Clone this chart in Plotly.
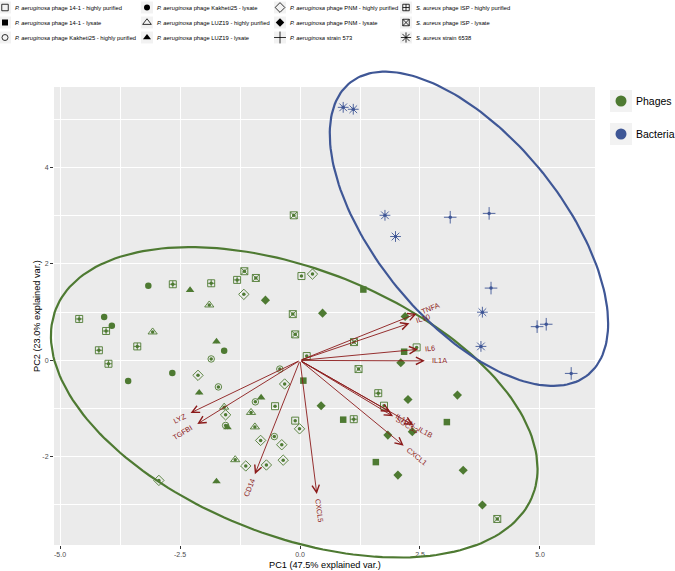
import numpy as np
import plotly.graph_objects as go

# ---------------- dados (PC1, PC2) ----------------
# fagos
p141_hp_x = [0.03, 2.43, -0.52, -0.10, 1.75, 0.14]
p141_hp_y = [1.75, 0.27, -0.95, -1.25, -0.94, 0.09]
p141_ly_x = [0.07, 1.32, 2.17, 0.90, 3.06, 1.58]
p141_ly_y = [-0.42, 1.47, 0.18, -1.23, -1.28, -2.11]
kak_hp_x = [-1.85, -1.70, -0.42, -0.93, -1.55, -0.535]
kak_hp_y = [0.03, -0.55, -0.18, -0.86, -1.35, -1.58]
kak_ly_x = [-4.08, -3.92, -3.16, -3.58, -2.66, -1.58]
kak_ly_y = [0.90, 0.72, 1.55, -0.43, -0.26, 0.20]
luz_hp_x = [-3.07, -1.89, -1.58, -1.02, -0.94, -1.35]
luz_hp_y = [0.59, 1.15, -0.97, -1.08, -1.38, -2.06]
luz_ly_x = [-2.29, -1.74, -2.10, -0.81, -1.51, -1.74]
luz_ly_y = [1.46, 0.39, -0.67, -0.77, -1.39, -2.51]
pnm_hp_x = [-2.125, -1.17, 0.26, -0.32, -1.55, -0.01, -0.82, -0.38, -1.13, -0.70, -0.35, -2.94]
pnm_hp_y = [-0.31, 1.37, 1.79, -0.49, -1.13, -1.42, -1.66, -1.75, -2.19, -2.17, -2.07, -2.49]
pnm_ly_x = [-0.72, 0.47, 0.44, 2.19, 2.10, 2.25, 3.28, 2.34, 1.83, 2.04, 3.40, 3.80]
pnm_ly_y = [1.25, 0.98, -0.94, 0.91, -0.05, -0.81, -0.72, -1.48, -1.55, -2.38, -2.28, -3.00]
isp_hp_x = [-4.60, -4.04, -4.19, -3.99, -3.39, -2.65, -1.85, -1.31, 1.63, 1.12]
isp_hp_y = [0.86, 0.61, 0.21, -0.07, 0.29, 1.58, 1.60, 1.67, -0.68, -1.22]
isp_ly_x = [-0.13, -1.16, -0.92, -0.15, -0.10, 4.11, 1.22, 1.125]
isp_ly_y = [3.01, 1.85, 1.71, 0.96, 0.54, -3.29, -0.18, 0.38]
# bacterias
pa573_x = [3.13, 3.94, 3.98, 4.94, 5.13, 5.65]
pa573_y = [2.97, 3.05, 1.50, 0.70, 0.75, -0.27]
sa6538_x = [0.90, 1.11, 1.77, 1.99, 3.80, 3.77]
sa6538_y = [5.25, 5.21, 3.01, 2.57, 1.00, 0.29]

# vetores (loadings)
var_names = ["TNFA", "IL10", "IL6", "IL1A", "IL1RN", "SOCS3", "IL1B", "CXCL1", "CXCL5", "CD14", "LYZ", "TGFBI"]
var_pc1 = [2.43, 2.28, 2.46, 2.60, 1.88, 1.94, 2.36, 2.16, 0.35, -0.94, -2.28, -2.14]
var_pc2 = [0.97, 0.77, 0.23, -0.01, -1.07, -1.16, -1.34, -1.77, -2.77, -2.36, -1.09, -1.32]

# elipses: centro e matriz de forma
phage_center = [-0.12, -0.87]
phage_shape = [[25.7, -6.99], [-6.99, 10.37]]
bact_center = [3.52, 2.73]
bact_shape = [[8.41, -5.7], [-5.7, 10.63]]

x_tickvals = [-5.0, -2.5, 0.0, 2.5, 5.0]
x_ticktext = ["-5.0", "-2.5", "0.0", "2.5", "5.0"]
y_tickvals = [-2, 0, 2, 4]
y_ticktext = ["-2", "0", "2", "4"]

# ---------------- estilo / layout ----------------
GREEN = "#4E7A32"
BLUE = "#3F5796"
DARKRED = "#8B1A1A"
FONT = "Liberation Sans, Arial, sans-serif"

W, H = 675, 571
PAN_L, PAN_T, PAN_R, PAN_B = 54, 87, 595, 545
X_RANGE = [-5.125, 6.146]
Y_RANGE = [-3.83, 5.672]
sx = (PAN_R - PAN_L) / (X_RANGE[1] - X_RANGE[0])
sy = (PAN_B - PAN_T) / (Y_RANGE[1] - Y_RANGE[0])
# eixo auxiliar com a mesma escala, cobrindo a figura toda (elipses sem recorte)
X2_RANGE = [X_RANGE[0] - PAN_L / sx, X_RANGE[1] + (W - PAN_R) / sx]
Y2_RANGE = [Y_RANGE[0] - (H - PAN_B) / sy, Y_RANGE[1] + PAN_T / sy]

amostras = [
    ("<i>P. aeruginosa</i> phage 14-1 - highly purified", p141_hp_x, p141_hp_y, GREEN, "square-open", 7),
    ("<i>P. aeruginosa</i> phage 14-1 - lysate", p141_ly_x, p141_ly_y, GREEN, "square", 6.5),
    ("<i>P. aeruginosa</i> phage Kakheti25 - highly purified", kak_hp_x, kak_hp_y, GREEN, "circle-open", 6.5),
    ("<i>P. aeruginosa</i> phage Kakheti25 - lysate", kak_ly_x, kak_ly_y, GREEN, "circle", 6.5),
    ("<i>P. aeruginosa</i> phage LUZ19 - highly purified", luz_hp_x, luz_hp_y, GREEN, "triangle-up-open", 8),
    ("<i>P. aeruginosa</i> phage LUZ19 - lysate", luz_ly_x, luz_ly_y, GREEN, "triangle-up", 7.5),
    ("<i>P. aeruginosa</i> phage PNM - highly purified", pnm_hp_x, pnm_hp_y, GREEN, "diamond-open", 8),
    ("<i>P. aeruginosa</i> phage PNM - lysate", pnm_ly_x, pnm_ly_y, GREEN, "diamond", 7),
    ("<i>P. aeruginosa</i> strain 573", pa573_x, pa573_y, BLUE, "cross-thin-open", 9),
    ("<i>S. aureus</i> phage ISP - highly purified", isp_hp_x, isp_hp_y, GREEN, "square-cross-open", 7),
    ("<i>S. aureus</i> phage ISP - lysate", isp_ly_x, isp_ly_y, GREEN, "square-x-open", 7),
    ("<i>S. aureus</i> strain 6538", sa6538_x, sa6538_y, BLUE, "asterisk-open", 9),
]

fig = go.Figure()

# pontinho de base (como no ggbiplot) por baixo de cada forma
for nome, xs, ys, cor, simb, tam in amostras:
    fig.add_trace(go.Scatter(x=xs, y=ys, mode="markers", showlegend=False, hoverinfo="skip",
                             marker=dict(symbol="circle", size=3.5, color=cor)))

for nome, xs, ys, cor, simb, tam in amostras:
    aberto = simb.endswith("open")
    fig.add_trace(go.Scatter(
        x=xs, y=ys, mode="markers", name=nome, showlegend=False,
        marker=dict(symbol=simb, size=tam, color=cor,
                    line=dict(color=cor, width=0.9 if aberto else 0))
    ))


# elipses
def elipse(centro, forma, n=200):
    L = np.linalg.cholesky(np.array(forma))
    t = np.linspace(0, 2 * np.pi, n)
    pts = L @ np.vstack([np.cos(t), np.sin(t)])
    return centro[0] + pts[0], centro[1] + pts[1]


for centro, forma, cor in [(phage_center, phage_shape, GREEN), (bact_center, bact_shape, BLUE)]:
    ex, ey = elipse(centro, forma)
    fig.add_trace(go.Scatter(x=ex, y=ey, mode="lines", xaxis="x2", yaxis="y2", showlegend=False,
                             hoverinfo="skip", line=dict(color=cor, width=2.2)))

# setas e rotulos das variaveis
for nome, vx, vy in zip(var_names, var_pc1, var_pc2):
    fig.add_annotation(x=vx, y=vy, ax=0, ay=0, xref="x", yref="y", axref="x", ayref="y",
                       text="", showarrow=True, arrowhead=5, arrowsize=1.6, arrowwidth=0.9,
                       arrowcolor=DARKRED)
    d = np.hypot(vx, vy)
    off = (4 + 2.6 * len(nome)) / sx
    ang = -np.degrees(np.arctan(vy / vx))
    fig.add_annotation(x=vx + vx / d * off, y=vy + vy / d * off, xref="x", yref="y",
                       text=nome, showarrow=False, textangle=ang,
                       xanchor="center", yanchor="middle",
                       font=dict(size=7.3, color=DARKRED, family=FONT))

# ---------------- legendas (desenhadas em coordenadas de pixel) ----------------
leg_col_x = [5, 147, 280, 406]
leg_row_y = [7.5, 22.5, 37.5]
for i, (nome, xs, ys, cor, simb, tam) in enumerate(amostras):
    cx, cy = leg_col_x[i // 3], leg_row_y[i % 3]
    aberto = simb.endswith("open")
    fig.add_trace(go.Scatter(x=[cx], y=[cy], mode="markers", xaxis="x3", yaxis="y3",
                             showlegend=False, hoverinfo="skip",
                             marker=dict(symbol="square", size=12, color="#F2F2F2")))
    fig.add_trace(go.Scatter(x=[cx], y=[cy], mode="markers", xaxis="x3", yaxis="y3",
                             showlegend=False, hoverinfo="skip",
                             marker=dict(symbol=simb, size=tam - 0.5, color="black",
                                         line=dict(color="black", width=0.8 if aberto else 0))))
    fig.add_annotation(x=cx + 8, y=cy, xref="x3", yref="y3", text=nome, showarrow=False,
                       xanchor="left", yanchor="middle", font=dict(size=5.8, color="black", family=FONT))

grupos = [("Phages", GREEN), ("Bacteria", BLUE)]
grp_x, grp_y = 621, [101, 134]
for (nome, cor), gy in zip(grupos, grp_y):
    fig.add_trace(go.Scatter(x=[grp_x], y=[gy], mode="markers", xaxis="x3", yaxis="y3",
                             showlegend=False, hoverinfo="skip",
                             marker=dict(symbol="square", size=22, color="#F2F2F2")))
    fig.add_trace(go.Scatter(x=[grp_x], y=[gy], mode="markers", xaxis="x3", yaxis="y3",
                             showlegend=False, hoverinfo="skip",
                             marker=dict(symbol="circle", size=11, color=cor)))
    fig.add_annotation(x=grp_x + 13, y=gy, xref="x3", yref="y3", text=nome, showarrow=False,
                       xanchor="left", yanchor="middle", font=dict(size=10.5, color="black", family=FONT))

# titulos dos eixos
fig.add_annotation(x=(PAN_L + PAN_R) / 2 / W, y=1 - 565 / H, xref="paper", yref="paper",
                   text="PC1 (47.5% explained var.)", showarrow=False,
                   xanchor="center", yanchor="middle",
                   font=dict(size=9.2, color="black", family=FONT))
fig.add_annotation(x=37 / W, y=1 - (PAN_T + PAN_B) / 2 / H, xref="paper", yref="paper",
                   text="PC2 (23.0% explained var.)", showarrow=False, textangle=-90,
                   xanchor="center", yanchor="middle",
                   font=dict(size=9.2, color="black", family=FONT))

# painel cinza
fig.add_shape(type="rect", xref="x domain", yref="y domain", x0=0, x1=1, y0=0, y1=1,
              fillcolor="#EBEBEB", line_width=0, layer="below")

eixo = dict(showgrid=True, gridcolor="white", gridwidth=1.3, zeroline=False, showline=False,
            ticks="outside", ticklen=3, tickwidth=1, tickcolor="#333333", automargin=False,
            tickfont=dict(size=7, color="#4D4D4D", family=FONT), fixedrange=True)

fig.update_layout(
    width=W, height=H,
    margin=dict(l=0, r=0, t=0, b=0),
    paper_bgcolor="white", plot_bgcolor="rgba(0,0,0,0)",
    font=dict(family=FONT),
    showlegend=False,
    xaxis=dict(eixo, domain=[PAN_L / W, PAN_R / W], range=X_RANGE, anchor="y",
               tickmode="array", tickvals=x_tickvals, ticktext=x_ticktext,
               minor=dict(tick0=0, dtick=1.25, showgrid=True, gridcolor="white", gridwidth=0.6)),
    yaxis=dict(eixo, domain=[1 - PAN_B / H, 1 - PAN_T / H], range=Y_RANGE, anchor="x",
               tickmode="array", tickvals=y_tickvals, ticktext=y_ticktext,
               minor=dict(tick0=0, dtick=1, showgrid=True, gridcolor="white", gridwidth=0.6)),
    xaxis2=dict(domain=[0, 1], range=X2_RANGE, visible=False, anchor="y2", fixedrange=True),
    yaxis2=dict(domain=[0, 1], range=Y2_RANGE, visible=False, anchor="x2", fixedrange=True),
    xaxis3=dict(domain=[0, 1], range=[0, W], visible=False, anchor="y3", fixedrange=True),
    yaxis3=dict(domain=[0, 1], range=[H, 0], visible=False, anchor="x3", fixedrange=True),
)

# a pagina tem margem de 8px por omissao; tirar para a figura ocupar a janela inteira
fig.write_html("out.html", config={"displayModeBar": False},
               post_script="document.body.style.margin='0px';")
